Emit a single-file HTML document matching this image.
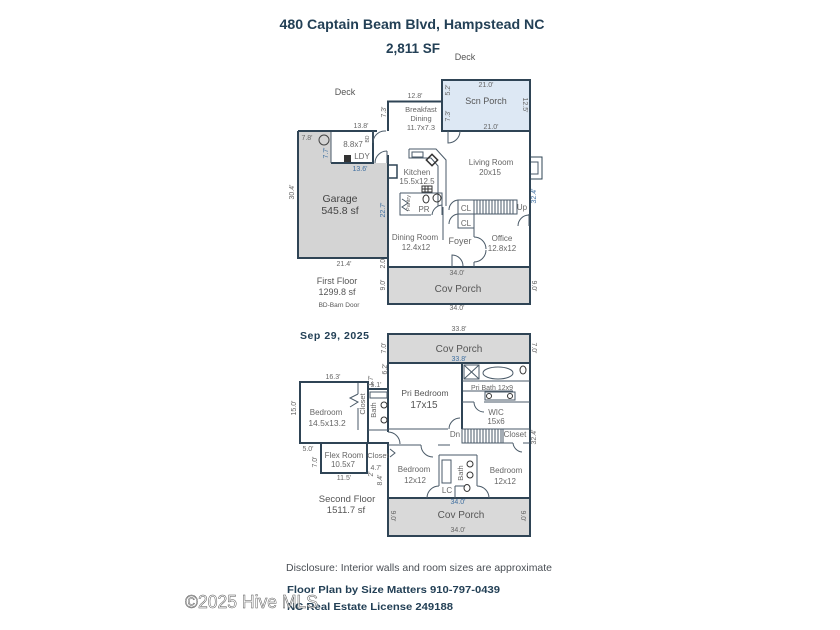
<!DOCTYPE html>
<html><head><meta charset="utf-8"><style>
html,body{margin:0;padding:0;background:#fff}
svg{display:block}
text{font-family:"Liberation Sans",sans-serif}
</style></head><body>
<svg width="840" height="630" viewBox="0 0 840 630" xmlns="http://www.w3.org/2000/svg">
<rect width="840" height="630" fill="#fff"/>

<!-- Title -->
<text x="412" y="29" font-size="13.5" font-weight="bold" fill="#234056" text-anchor="middle" textLength="265" lengthAdjust="spacingAndGlyphs">480 Captain Beam Blvd, Hampstead NC</text>
<text x="413" y="53" font-size="13.5" font-weight="bold" fill="#234056" text-anchor="middle">2,811 SF</text>
<text x="465" y="60" font-size="9" fill="#555" text-anchor="middle">Deck</text>

<!-- ================= FIRST FLOOR ================= -->
<path d="M298,131H331V163H388V258H298Z" fill="#d4d4d4"/>
<rect x="442" y="80" width="88" height="51" fill="#dde8f4"/>
<rect x="388" y="267" width="142" height="37" fill="#d9d9d9"/>

<g fill="none" stroke="#2f4455" stroke-width="2">
  <rect x="442" y="80" width="88" height="51"/>
  <rect x="388" y="267" width="142" height="37"/>
  <path d="M388,131V101.5H442"/>
  <path d="M530,131V267"/>
  <path d="M298,131H377"/>
  <path d="M298,131V258H388"/>
  <path d="M331,163H373V131"/>
  <path d="M388,155V267"/>
</g>
<g fill="none" stroke="#4a5a68" stroke-width="1">
  <path d="M331,132V163"/>
  <path d="M373,142A12,12 0 0 1 386,131"/><path d="M373,131V143"/>
  <path d="M375,163A12,12 0 0 1 387,151"/><path d="M387,151V163"/>
  <path d="M448,131V143A12,12 0 0 0 460,131"/>
  <rect x="388" y="165" width="9" height="13" stroke="#2f4455" stroke-width="1.5"/>
  <path d="M409,149H436L446,160V206"/>
  <path d="M409,149V158H431L438,166V206"/>
  <rect x="412" y="152" width="11" height="5"/>
  <path d="M400,193H442V215"/>
  <path d="M400,193V215H431"/>
  <path d="M432,215A11,11 0 0 1 442,205"/>
  <path d="M443,207V240"/>
  <path d="M402,199L408,203L402,207L408,211"/>
  <rect x="458" y="200" width="16" height="14"/>
  <rect x="458" y="214" width="16" height="14"/>
  <path d="M458,200A10,10 0 0 0 449,210"/>
  <path d="M458,214A10,10 0 0 0 449,224"/>
  <rect x="474" y="200" width="43" height="14"/>
  <path d="M477,200V214M480,200V214M483,200V214M486,200V214M489,200V214M492,200V214M495,200V214M498,200V214M501,200V214M504,200V214M507,200V214M510,200V214M513,200V214"/>
  <path d="M518,226A11,11 0 0 1 529,215"/><path d="M529,214V226"/>
  <path d="M474,228V237M474,262V267"/>
  <path d="M474,237A12,12 0 0 1 486,249"/>
  <path d="M474,262A12,12 0 0 0 486,250"/>
  <path d="M452,267V255A11,11 0 0 1 463,266"/>
  <rect x="530" y="157" width="12" height="22" stroke="#2f4455"/>
  <path d="M531,162H538V174H531"/>
</g>
<circle cx="324" cy="140" r="5" fill="none" stroke="#444" stroke-width="1"/>
<rect x="344" y="155" width="7" height="7" fill="#333"/>
<rect x="428" y="156" width="8" height="8" fill="none" stroke="#333" stroke-width="1.5" transform="rotate(45 432 160)"/>
<g fill="none" stroke="#333" stroke-width="1">
  <rect x="422" y="186" width="10" height="6"/>
  <path d="M425,186V192M428,186V192M422,189H432"/>
</g>
<ellipse cx="426" cy="199" rx="3" ry="4" fill="none" stroke="#333"/>
<circle cx="437" cy="198" r="4" fill="none" stroke="#333"/>

<g font-size="9" fill="#555" text-anchor="middle">
  <text x="345" y="95">Deck</text>
  <text x="486" y="104">Scn Porch</text>
  <text x="340" y="202" font-size="10.5" fill="#444">Garage</text>
  <text x="340" y="214" font-size="10.5" fill="#444">545.8 sf</text>
  <text x="458" y="292" font-size="10">Cov Porch</text>
  <text x="337" y="284">First Floor</text>
  <text x="337" y="295">1299.8 sf</text>
  <text x="339" y="307" font-size="6.5">BD-Barn Door</text>
</g>
<g font-size="7.5" fill="#666" text-anchor="middle">
  <text x="421" y="112">Breakfast</text>
  <text x="421" y="121">Dining</text>
  <text x="421" y="130">11.7x7.3</text>
  <text x="353" y="147" font-size="8">8.8x7</text>
  <text x="362" y="159" font-size="8">LDY</text>
  <text x="491" y="165" font-size="8">Living Room</text>
  <text x="490" y="175" font-size="8">20x15</text>
  <text x="417" y="175" font-size="8">Kitchen</text>
  <text x="417" y="184" font-size="8">15.5x12.5</text>
  <text x="424" y="212" font-size="8">PR</text>
  <text x="415" y="240" font-size="8">Dining Room</text>
  <text x="416" y="250" font-size="8">12.4x12</text>
  <text x="466" y="211" font-size="8">CL</text>
  <text x="466" y="226" font-size="8">CL</text>
  <text x="522" y="210" font-size="8">Up</text>
  <text x="460" y="244" font-size="9">Foyer</text>
  <text x="502" y="241" font-size="8">Office</text>
  <text x="502" y="251" font-size="8">12.8x12</text>
</g>
<g font-size="7" fill="#666" text-anchor="middle">
  <text x="415" y="98">12.8'</text>
  <text x="486" y="87">21.0'</text>
  <text x="491" y="129">21.0'</text>
  <text x="361" y="128">13.8'</text>
  <text x="307" y="140">7.8'</text>
  <text x="360" y="171" fill="#3f6fa0">13.6'</text>
  <text x="344" y="266">21.4'</text>
  <text x="457" y="275">34.0'</text>
  <text x="457" y="310">34.0'</text>
  <text transform="rotate(-90 386 112)" x="386" y="112">7.3'</text>
  <text transform="rotate(-90 450 90)" x="450" y="90">5.2'</text>
  <text transform="rotate(-90 450 116)" x="450" y="116">7.3'</text>
  <text transform="rotate(90 523 105)" x="523" y="105">12.5'</text>
  <text transform="rotate(-90 328 153)" x="328" y="153" fill="#3f6fa0">7.7'</text>
  <text transform="rotate(-90 294 192)" x="294" y="192">30.4'</text>
  <text transform="rotate(-90 385 210)" x="385" y="210" fill="#3f6fa0">22.7'</text>
  <text transform="rotate(-90 385 263)" x="385" y="263">2.0'</text>
  <text transform="rotate(-90 385 285)" x="385" y="285">9.0'</text>
  <text transform="rotate(90 532 286)" x="532" y="286">9.0'</text>
  <text transform="rotate(-90 536 196)" x="536" y="196" fill="#3f6fa0">32.4'</text>
  <text transform="rotate(-90 410 203)" x="410" y="203" font-size="5.5">Pantry</text>
  <text transform="rotate(-90 369 139)" x="369" y="139" font-size="5">BD</text>
</g>

<!-- ================= SECOND FLOOR ================= -->
<text x="300" y="339" font-size="10.5" font-weight="bold" fill="#234056" textLength="69">Sep 29, 2025</text>

<rect x="388" y="334" width="142" height="29" fill="#d9d9d9"/>
<rect x="388" y="498" width="142" height="38" fill="#d9d9d9"/>

<g fill="none" stroke="#2f4455" stroke-width="2">
  <rect x="388" y="334" width="142" height="29"/>
  <rect x="388" y="498" width="142" height="38"/>
  <path d="M530,363V498"/>
  <path d="M388,363V432M388,446V498"/>
  <rect x="300" y="382" width="68" height="61"/>
  <rect x="321" y="443" width="46" height="30"/>
  <path d="M367,443H388V463"/>
  <path d="M368,389H388"/>
  <path d="M462,363V429"/>
</g>
<g fill="none" stroke="#4a5a68" stroke-width="1">
  <path d="M358,383V394M358,408V430"/>
  <path d="M358,394L350,398L358,402L350,407"/>
  <path d="M368,430H388"/>
  <rect x="370" y="392" width="17" height="6"/>
  <path d="M388,432A12,12 0 0 1 400,444"/>
  <rect x="464" y="365" width="15" height="14"/>
  <path d="M464,365L479,379M479,365L464,379"/>
  <ellipse cx="498" cy="373" rx="15" ry="6"/>
  <path d="M462,381H530"/>
  <path d="M463,391H513"/>
  <rect x="485" y="392" width="30" height="8"/>
  <path d="M462,402H474M484,402H530"/>
  <path d="M474,402A10,10 0 0 0 484,412"/>
  <path d="M388,429H448"/>
  <path d="M449,429A11,11 0 0 1 460,418"/>
  <path d="M462,429H530"/>
  <rect x="462" y="429" width="41" height="14"/>
  <path d="M465,429V443M468,429V443M471,429V443M474,429V443M477,429V443M480,429V443M483,429V443M486,429V443M489,429V443M492,429V443M495,429V443M498,429V443M501,429V443"/>
  <path d="M503,443H513M523,443H530"/>
  <path d="M513,443A10,10 0 0 0 522,452"/>
  <path d="M388,445H421M438,445H450"/>
  <path d="M421,445A12,12 0 0 0 433,457"/>
  <path d="M439,455H477"/>
  <path d="M439,455V486M477,455V486"/>
  <path d="M427,498A12,12 0 0 1 439,486"/>
  <path d="M489,498A12,12 0 0 0 477,486"/>
  <rect x="442" y="460" width="9" height="23"/>
  <path d="M455,486V498M455,486H465"/>
  <path d="M390,449L395,453L390,457"/>
</g>
<circle cx="384" cy="405" r="3" fill="none" stroke="#333"/>
<circle cx="384" cy="420" r="3" fill="none" stroke="#333"/>
<ellipse cx="523" cy="370" rx="3" ry="4" fill="none" stroke="#333"/>
<circle cx="489" cy="396" r="2.5" fill="none" stroke="#333"/>
<circle cx="510" cy="396" r="2.5" fill="none" stroke="#333"/>
<circle cx="470" cy="464" r="3" fill="none" stroke="#333"/>
<circle cx="470" cy="475" r="3" fill="none" stroke="#333"/>
<ellipse cx="467" cy="488" rx="3" ry="3.5" fill="none" stroke="#333"/>

<g font-size="9" fill="#555" text-anchor="middle">
  <text x="459" y="352" font-size="10">Cov Porch</text>
  <text x="461" y="518" font-size="10">Cov Porch</text>
  <text x="347" y="502" font-size="9.5">Second Floor</text>
  <text x="346" y="513" font-size="9.5">1511.7 sf</text>
  <text x="425" y="396" font-size="8.5">Pri Bedroom</text>
  <text x="424" y="408" font-size="10">17x15</text>
</g>
<g font-size="8" fill="#666" text-anchor="middle">
  <text x="326" y="415">Bedroom</text>
  <text x="327" y="426" font-size="8.5">14.5x13.2</text>
  <text x="344" y="458">Flex Room</text>
  <text x="343" y="467">10.5x7</text>
  <text x="378" y="458" font-size="7.5">Closet</text>
  <text x="492" y="390" font-size="7">Pri Bath 12x9</text>
  <text x="496" y="415">WIC</text>
  <text x="496" y="424">15x6</text>
  <text x="455" y="437">Dn</text>
  <text x="515" y="437">Closet</text>
  <text x="414" y="472">Bedroom</text>
  <text x="415" y="483">12x12</text>
  <text x="506" y="473">Bedroom</text>
  <text x="505" y="484">12x12</text>
  <text x="447" y="493">LC</text>
  <text transform="rotate(-90 365 404)" x="365" y="404" font-size="7.5">Closet</text>
  <text transform="rotate(-90 376 410)" x="376" y="410" font-size="7.5">Bath</text>
  <text transform="rotate(-90 463 473)" x="463" y="473" font-size="7.5">Bath</text>
</g>
<g font-size="7" fill="#666" text-anchor="middle">
  <text x="459" y="331">33.8'</text>
  <text x="459" y="361" fill="#3f6fa0">33.8'</text>
  <text x="333" y="379">16.3'</text>
  <text x="376" y="387">5.1'</text>
  <text x="308" y="451">5.0'</text>
  <text x="344" y="480">11.5'</text>
  <text x="376" y="470">4.7'</text>
  <text x="458" y="504" fill="#3f6fa0">34.0'</text>
  <text x="458" y="532">34.0'</text>
  <text transform="rotate(-90 386 348)" x="386" y="348">7.0'</text>
  <text transform="rotate(90 532 348)" x="532" y="348">7.0'</text>
  <text transform="rotate(-90 387 369)" x="387" y="369">6.2'</text>
  <text transform="rotate(-90 373 381)" x="373" y="381">1.7'</text>
  <text transform="rotate(-90 296 408)" x="296" y="408">15.0'</text>
  <text transform="rotate(-90 317 462)" x="317" y="462">7.0'</text>
  <text transform="rotate(-90 373 474)" x="373" y="474">2'</text>
  <text transform="rotate(-90 382 480)" x="382" y="480">8.4'</text>
  <text transform="rotate(90 391 516)" x="391" y="516">9.0'</text>
  <text transform="rotate(90 521 516)" x="521" y="516">9.0'</text>
  <text transform="rotate(-90 536 437)" x="536" y="437">32.4'</text>
</g>

<!-- Footer -->
<text x="286" y="571" font-size="10.5" fill="#4a4f55" textLength="266" lengthAdjust="spacingAndGlyphs">Disclosure: Interior walls and room sizes are approximate</text>
<text x="287" y="593" font-size="10.5" font-weight="bold" fill="#234056" textLength="213" lengthAdjust="spacingAndGlyphs">Floor Plan by Size Matters 910-797-0439</text>
<text x="287" y="610" font-size="10.5" font-weight="bold" fill="#234056" textLength="166" lengthAdjust="spacingAndGlyphs">NC Real Estate License 249188</text>
<text x="185" y="608" font-size="18" fill="#fff" fill-opacity="0.85" stroke="#555" stroke-width="0.5" textLength="133" lengthAdjust="spacingAndGlyphs">©2025 Hive MLS</text>
</svg>
</body></html>
